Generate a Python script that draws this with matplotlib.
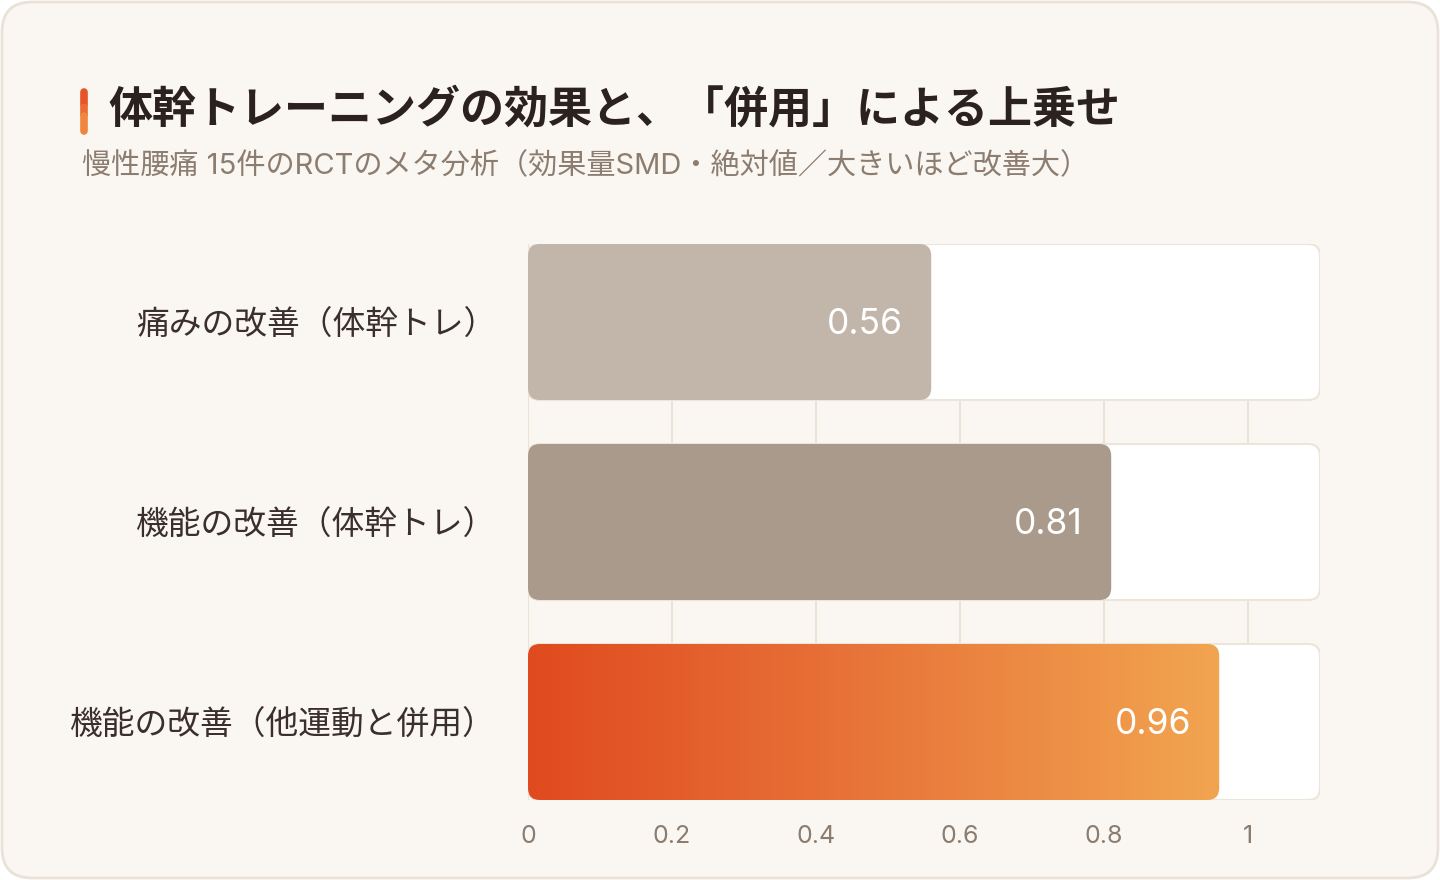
import numpy as np
import matplotlib
matplotlib.use('Agg')
import matplotlib.pyplot as plt
from matplotlib.patches import FancyBboxPatch
from matplotlib.lines import Line2D
from matplotlib.colors import LinearSegmentedColormap

plt.rcParams['font.family'] = ['Inter', 'Noto Sans CJK JP', 'DejaVu Sans']

# データ
labels = ['痛みの改善（体幹トレ）', '機能の改善（体幹トレ）', '機能の改善（他運動と併用）']
values = [0.56, 0.81, 0.96]
bar_colors = ['#C2B5A9', '#A99A8B', None]   # None = グラデーション
ticks = [0, 0.2, 0.4, 0.6, 0.8, 1]
tick_labels = ['0', '0.2', '0.4', '0.6', '0.8', '1']
x_max = 1.1

title = '体幹トレーニングの効果と、「併用」による上乗せ'
subtitle = '慢性腰痛 15件のRCTのメタ分析（効果量SMD・絶対値／大きいほど改善大）'

W, H = 1440, 880
fig = plt.figure(figsize=(W / 100, H / 100), dpi=100)
fig.patch.set_facecolor('white')

# カード背景
card = FancyBboxPatch((2 / W, 2 / H), (W - 4) / W, (H - 4) / H,
                      boxstyle='round,pad=0,rounding_size=%f' % (30 / W),
                      mutation_aspect=W / H, transform=fig.transFigure,
                      facecolor='#FAF7F2', edgecolor='#EAE2D8', linewidth=2,
                      zorder=-5)
fig.patches.append(card)

# タイトル左のアクセント（上から下へ少し色が変わる）
acc_cols = ['#E8542A', '#EC6A33', '#F0853F']
for k, col in enumerate(acc_cols):
    y_top = 92 + k * 12
    fig.add_artist(Line2D([84 / W, 84 / W], [1 - y_top / H, 1 - (y_top + 12 + (k == 2) * 3) / H],
                          transform=fig.transFigure, color=col, linewidth=5.5,
                          solid_capstyle='round' if k != 1 else 'butt'))

fig.text(108 / W, 1 - 110 / H, title, fontsize=31.7, fontweight='bold',
         color='#2B211E', va='center', ha='left')
fig.text(82 / W, 1 - 166 / H, subtitle, fontsize=21, color='#8C7D70',
         va='center', ha='left')

# メインのグラフ
ax = fig.add_axes([528 / W, 1 - 800 / H, 792 / W, 556 / H])
ax.set_facecolor('none')
bar_h = 0.78
n = len(values)
ax.set_xlim(0, x_max)
ax.set_ylim(n - 1 + bar_h / 2, -bar_h / 2)

for s in ax.spines.values():
    s.set_visible(False)
for t in ticks:
    ax.axvline(t, color='#ECE3D8', linewidth=1.5, zorder=0)

ax.set_xticks(ticks)
ax.set_xticklabels(tick_labels)
ax.tick_params(axis='x', length=0, pad=18, labelsize=18, labelcolor='#8A7D70')
ax.set_yticks(range(n))
ax.set_yticklabels(labels)
ax.tick_params(axis='y', length=0, pad=23, labelsize=23.6, labelcolor='#3A2F2B')

# 角丸の補正（x と y の単位の比）
x_per_px = x_max / 792
y_per_px = (n - 1 + bar_h) / 556
aspect = y_per_px / x_per_px
r = 12 * x_per_px

grad_cmap = LinearSegmentedColormap.from_list('grad', ['#E04A1F', '#E8763A', '#F2A550'])

for i, (v, c) in enumerate(zip(values, bar_colors)):
    y0 = i - bar_h / 2
    track = FancyBboxPatch((0, y0), x_max, bar_h,
                           boxstyle='round,pad=0,rounding_size=%f' % r,
                           mutation_aspect=aspect, facecolor='white',
                           edgecolor='#EDE4DA', linewidth=1.5, zorder=1)
    ax.add_patch(track)
    bar = FancyBboxPatch((0, y0), v, bar_h,
                         boxstyle='round,pad=0,rounding_size=%f' % r,
                         mutation_aspect=aspect,
                         facecolor=c if c else 'none', edgecolor='none', zorder=2)
    ax.add_patch(bar)
    if c is None:
        g = ax.imshow(np.linspace(0, 1, 256).reshape(1, -1), cmap=grad_cmap,
                      aspect='auto', extent=(0, v, y0 + bar_h, y0), zorder=2)
        g.set_clip_path(bar)
    ax.annotate('%.2f' % v, xy=(v, i), xytext=(-28, -2), textcoords='offset pixels',
                ha='right', va='center', fontsize=25.5, color='white', zorder=3)

ax.set_xlim(0, x_max)
ax.set_ylim(n - 1 + bar_h / 2, -bar_h / 2)

fig.savefig('out.png', dpi=100, facecolor=fig.get_facecolor())
